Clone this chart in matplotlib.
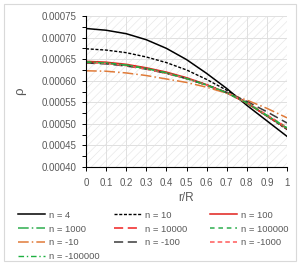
import matplotlib
matplotlib.use("Agg")
import matplotlib.pyplot as plt
from matplotlib.patches import Rectangle
from matplotlib.ticker import MultipleLocator, FormatStrFormatter

plt.rcParams["font.family"] = ["Liberation Sans", "DejaVu Sans"]
plt.rcParams["hatch.linewidth"] = 0.4

r = [0.0, 0.1, 0.2, 0.3, 0.4, 0.5, 0.6, 0.7, 0.8, 0.9, 1.0]

n4 = [0.000721, 0.000717, 0.000709, 0.000695, 0.000675, 0.000649, 0.000617, 0.000582, 0.000543, 0.000507, 0.000471]
n10 = [0.000674, 0.000671, 0.000665, 0.000655, 0.000642, 0.000625, 0.000603, 0.000578, 0.000549, 0.000518, 0.000487]
n100 = [0.000645, 0.000643, 0.000638, 0.000630, 0.000620, 0.000607, 0.000591, 0.000572, 0.000548, 0.000518, 0.000489]
n1000 = [0.000643, 0.000641, 0.000636, 0.000628, 0.000618, 0.000605, 0.000590, 0.000572, 0.000548, 0.000519, 0.000490]
n10000 = [0.000643, 0.000641, 0.000636, 0.000628, 0.000618, 0.000606, 0.000590, 0.000572, 0.000549, 0.000519, 0.000490]
n100000 = [0.000643, 0.000641, 0.000636, 0.000628, 0.000618, 0.000605, 0.000590, 0.000572, 0.000549, 0.000519, 0.000490]
nm10 = [0.000623, 0.000622, 0.000618, 0.000612, 0.000604, 0.000596, 0.000585, 0.000571, 0.000555, 0.000536, 0.000514]
nm100 = [0.000641, 0.000639, 0.000634, 0.000627, 0.000617, 0.000605, 0.000590, 0.000573, 0.000552, 0.000528, 0.000502]
nm1000 = [0.000642, 0.000640, 0.000635, 0.000627, 0.000617, 0.000605, 0.000590, 0.000572, 0.000550, 0.000521, 0.000492]
nm100000 = [0.000643, 0.000641, 0.000636, 0.000628, 0.000618, 0.000605, 0.000590, 0.000572, 0.000549, 0.000520, 0.000491]

fig = plt.figure(figsize=(3.0, 2.67), dpi=100)
fig.patches.append(Rectangle((4 / 300, 6 / 267), 292 / 300, 257 / 267,
                             transform=fig.transFigure, fill=False,
                             edgecolor="#D9D9D9", linewidth=0.8))

ax = fig.add_axes([86 / 300, 1 - 167 / 267, 201 / 300, 151 / 267])
ax.patch.set_facecolor("white")
ax.patch.set_hatch("////")
ax.patch.set_edgecolor("#E4E4E4")

series = [
    ("n = 4", n4, dict(color="black", lw=1.1, ls="-")),
    ("n = 10", n10, dict(color="black", lw=1.0, ls=(0, (2.2, 1.2)))),
    ("n = 100", n100, dict(color="#E0201B", lw=1.1, ls="-")),
    ("n = 1000", n1000, dict(color="#2EAE4E", lw=1.1, ls=(0, (7, 2, 1, 2)))),
    ("n = 10000", n10000, dict(color="#F02020", lw=1.1, ls=(0, (6, 3)))),
    ("n = 100000", n100000, dict(color="#2EAE4E", lw=1.1, ls=(0, (3, 2.5)))),
    ("n = -10", nm10, dict(color="#E07B39", lw=1.1, ls=(0, (7, 2, 1, 2)))),
    ("n = -100", nm100, dict(color="#3A3A3A", lw=1.1, ls=(0, (6, 3)))),
    ("n = -1000", nm1000, dict(color="#FF5A5A", lw=1.1, ls=(0, (3, 2)))),
    ("n = -100000", nm100000, dict(color="#1DB040", lw=1.0, ls=(0, (4, 2, 1, 2)))),
]

handles = {}
for label, vals, st in series:
    h, = ax.plot(r, vals, label=label, **st)
    handles[label] = h

ax.set_xlim(0, 1)
ax.set_ylim(0.0004, 0.00075)
ax.xaxis.set_major_locator(MultipleLocator(0.1))
ax.yaxis.set_major_locator(MultipleLocator(0.00005))
ax.yaxis.set_minor_locator(MultipleLocator(0.000025))
ax.xaxis.set_major_formatter(lambda v, p: "0" if abs(v) < 1e-9 else ("1" if abs(v - 1) < 1e-9 else f"{v:.1f}"))
ax.yaxis.set_major_formatter(FormatStrFormatter("%.5f"))
ax.grid(True, which="major", color="#E0E0E0", linewidth=0.7)
ax.set_axisbelow(True)

for s in ["top", "right"]:
    ax.spines[s].set_visible(False)
for s in ["left", "bottom"]:
    ax.spines[s].set_color("black")
    ax.spines[s].set_linewidth(0.8)

ax.tick_params(axis="both", which="both", direction="out", length=3, width=0.7,
               colors="black", labelcolor="#595959", labelsize=7, pad=4)
ax.tick_params(axis="x", pad=5)

ax.set_xlabel("r/R", fontsize=8.5, color="#595959", labelpad=3)
ax.set_ylabel("ρ", fontsize=9.5, color="#595959", labelpad=11)

# legend laid out row-wise in three fixed-width columns, like the original
columns = [
    (["n = 4", "n = 1000", "n = -10", "n = -100000"], 14),
    (["n = 10", "n = 10000", "n = -100"], 110),
    (["n = 100", "n = 100000", "n = -1000"], 206),
]
for labels, x0 in columns:
    fig.legend([handles[k] for k in labels], labels,
               loc="upper left", bbox_to_anchor=(x0 / 300, 1 - 207 / 267),
               frameon=False, fontsize=6.8, handlelength=2.9, handletextpad=0.4,
               labelspacing=0.5, labelcolor="#595959", borderaxespad=0)

fig.savefig("out.png", dpi=100)
